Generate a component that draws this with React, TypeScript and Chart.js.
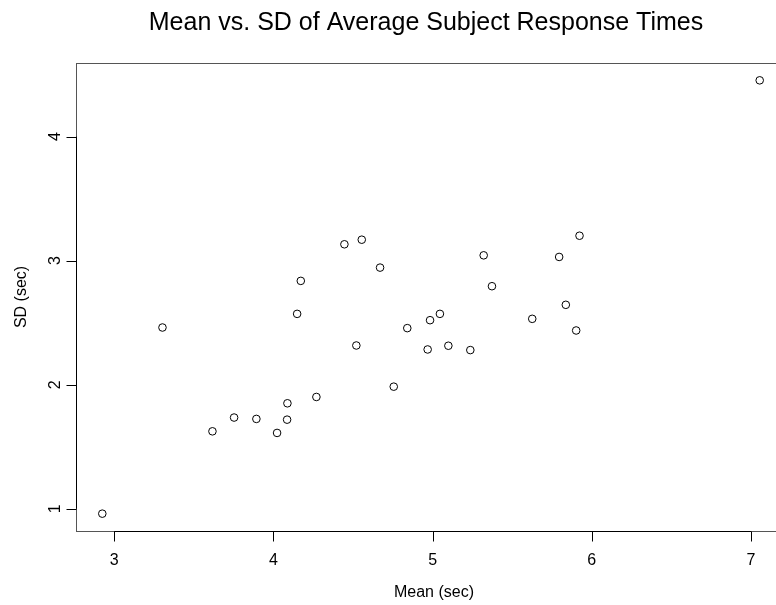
import React, { useEffect, useRef } from "react";
import { Chart, registerables } from "chart.js";

Chart.register(...registerables);

const meanSec: number[] = [
  4.446, 4.555, 4.670, 4.172, 7.055, 5.923, 5.321, 5.795, 5.373, 4.149,
  3.303, 4.841, 4.521, 4.756, 4.270, 4.088, 3.753, 3.893, 4.086, 3.617,
  4.023, 2.925, 5.837, 4.984, 5.046, 5.626, 5.902, 4.969, 5.099, 5.237,
];
const sdSec: number[] = [
  3.132, 3.169, 2.944, 2.837, 4.454, 3.201, 3.043, 3.030, 2.794, 2.571,
  2.461, 2.456, 2.316, 1.984, 1.901, 1.850, 1.735, 1.724, 1.718, 1.624,
  1.611, 0.960, 2.644, 2.520, 2.571, 2.531, 2.437, 2.284, 2.314, 2.279,
];
const xTicks: number[] = [3, 4, 5, 6, 7];
const yTicks: number[] = [1, 2, 3, 4];

const TITLE = "Mean vs. SD of Average Subject Response Times";
const X_TITLE = "Mean (sec)";
const Y_TITLE = "SD (sec)";
const FONT = '"Liberation Sans", Arial, Helvetica, sans-serif';

function pad(min: number, max: number) {
  const r = max - min;
  return [min - 0.04 * r, max + 0.04 * r];
}

const rPlot = {
  id: "rPlot",
  afterDraw(chart: any) {
    const ctx = chart.ctx;
    const xs = chart.scales.x;
    const ys = chart.scales.y;
    const a = chart.chartArea;
    ctx.save();
    // box
    ctx.strokeStyle = "#555";
    ctx.lineWidth = 1;
    ctx.strokeRect(Math.round(a.left) + 0.5, Math.round(a.top) + 0.5, Math.round(a.right - a.left), Math.round(a.bottom - a.top));
    ctx.strokeStyle = "#000";
    ctx.fillStyle = "#000";
    // x axis
    const by = Math.round(a.bottom) + 0.5;
    const x0 = xs.getPixelForValue(xTicks[0]);
    const x1 = xs.getPixelForValue(xTicks[xTicks.length - 1]);
    ctx.beginPath();
    ctx.moveTo(x0, by);
    ctx.lineTo(x1, by);
    xTicks.forEach((t) => {
      const px = Math.round(xs.getPixelForValue(t)) + 0.5;
      ctx.moveTo(px, by);
      ctx.lineTo(px, by + 10);
    });
    ctx.stroke();
    ctx.font = "16px " + FONT;
    ctx.textAlign = "center";
    ctx.textBaseline = "alphabetic";
    xTicks.forEach((t) => {
      ctx.fillText(String(t), xs.getPixelForValue(t), 565);
    });
    // y axis
    const lx = Math.round(a.left) + 0.5;
    const y0 = ys.getPixelForValue(yTicks[0]);
    const y1 = ys.getPixelForValue(yTicks[yTicks.length - 1]);
    ctx.beginPath();
    ctx.moveTo(lx, y0);
    ctx.lineTo(lx, y1);
    yTicks.forEach((t) => {
      const py = Math.round(ys.getPixelForValue(t)) + 0.5;
      ctx.moveTo(lx, py);
      ctx.lineTo(lx - 10, py);
    });
    ctx.stroke();
    yTicks.forEach((t) => {
      ctx.save();
      ctx.translate(60, ys.getPixelForValue(t));
      ctx.rotate(-Math.PI / 2);
      ctx.textAlign = "center";
      ctx.textBaseline = "alphabetic";
      ctx.fillText(String(t), 0, 0);
      ctx.restore();
    });
    // axis titles
    const cx = (a.left + a.right) / 2;
    const cy = (a.top + a.bottom) / 2;
    ctx.textAlign = "center";
    ctx.fillText(X_TITLE, cx + 3, 597);
    ctx.save();
    ctx.translate(26, cy);
    ctx.rotate(-Math.PI / 2);
    ctx.fillText(Y_TITLE, 0, 0);
    ctx.restore();
    // main title
    ctx.font = "25px " + FONT;
    ctx.fillText(TITLE, cx - 5, 30);
    ctx.restore();
  },
};

export default function App() {
  const ref = useRef<HTMLCanvasElement | null>(null);
  useEffect(() => {
    if (!ref.current) return;
    const [xmin, xmax] = pad(Math.min(...meanSec), Math.max(...meanSec));
    const [ymin, ymax] = pad(Math.min(...sdSec), Math.max(...sdSec));
    const chart = new Chart(ref.current, {
      type: "scatter",
      data: {
        datasets: [
          {
            data: meanSec.map((m, i) => ({ x: m, y: sdSec[i] })),
            pointStyle: "circle",
            pointRadius: 3.8,
            pointBorderWidth: 1,
            borderColor: "#000",
            backgroundColor: "rgba(0,0,0,0)",
            pointHoverRadius: 3.8,
          },
        ],
      },
      options: {
        animation: false,
        responsive: false,
        events: [],
        layout: {
          autoPadding: false,
          padding: { left: 76, top: 63, right: 14, bottom: 74 },
        },
        plugins: {
          legend: { display: false },
          title: { display: false },
          tooltip: { enabled: false },
        },
        scales: {
          x: { type: "linear", min: xmin, max: xmax, display: false },
          y: { type: "linear", min: ymin, max: ymax, display: false },
        },
      },
      plugins: [rPlot],
    });
    return () => chart.destroy();
  }, []);
  return (
    <div
      style={{
        position: "fixed",
        left: 0,
        top: 0,
        width: 776,
        height: 605,
        overflow: "hidden",
        background: "#fff",
      }}
    >
      <canvas ref={ref} width={800} height={605} style={{ display: "block" }} />
    </div>
  );
}
